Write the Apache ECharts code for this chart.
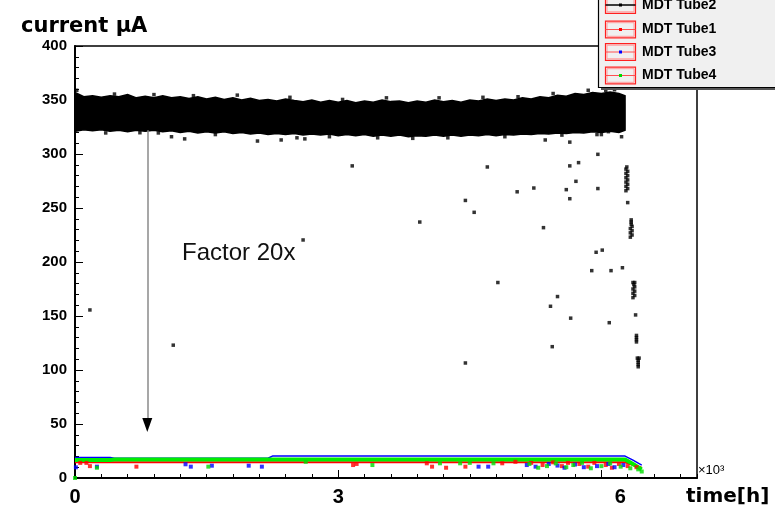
<!DOCTYPE html>
<html><head><meta charset="utf-8">
<script src="https://cdn.jsdelivr.net/npm/echarts@6/dist/echarts.min.js"></script>
<style>html,body{margin:0;padding:0;background:#fff}#c{width:775px;height:510px}</style>
</head><body><div id="c"></div>
<script>
// ---- data (time in 10^3 h, current in uA) ----
const xTicks = [0, 3, 6];
const bandX = [0,0.1,0.2,0.3,0.4,0.5,0.6,0.7,0.8,0.9,1.0,1.1,1.2,1.3,1.4,1.5,1.6,1.7,1.8,1.9,2.0,2.1,2.2,2.3,2.4,2.5,2.6,2.7,2.8,2.9,3.0,3.1,3.2,3.3,3.4,3.5,3.6,3.7,3.8,3.9,4.0,4.1,4.2,4.3,4.4,4.5,4.6,4.7,4.8,4.9,5.0,5.1,5.2,5.3,5.4,5.5,5.6,5.7,5.8,5.9,6.0,6.1,6.2,6.27];
const bandTop = [357,353,354,352.5,354,353,355,352,353.5,352,354,352,353,351.5,353,351,352.5,350.5,352,350,351.5,349.5,350.5,349,351,349.5,348.5,350,348,349.5,348,349.5,347.5,349,348,350,348.5,349,347.5,349,348,350,348.5,349.5,348,350,349,351,349.5,351,350,352,351,353,352,354.5,353.5,356,355,357,356,357.5,356,354];
const bandBottom = [321,322.5,321.5,322.5,321,322,320.5,322,321,322,320.5,321.5,320,321,319.5,320.5,319.5,320.5,319,320,318.5,319.5,318,319,318,319,317.5,318.5,317.5,318.5,317,318,317,318,316.5,317.5,316.5,317.5,316,317,316.5,317.5,316.5,317.5,316.5,317.5,317,318,317,318,317.5,318.5,318,319,318.5,319.5,319,320,319.5,320.5,320,321,320,322];
const bandEdgeDots = [[0.02,359],[0.45,355.5],[0.9,355],[1.35,354],[1.85,354.5],[2.45,352.5],[3.05,350.5],[3.55,352],[4.15,352],[4.65,352.5],[5.05,353],[5.45,356],[5.85,359],[6.05,359],[6.15,359.5],
  [0.35,319.5],[0.95,319.5],[1.6,318],[2.9,316],[3.45,315],[3.85,314.5],[4.25,315],[4.9,316],[5.55,317.5],[6.0,318]];
const tube2Points = [[0.17,155.6],[1.12,123],[2.6,220.4],[3.16,289],[3.93,237],[4.45,257],[4.55,246],[4.70,288],[4.45,106.5],[4.82,181],[5.04,265],[5.23,268.5],[5.34,231.8],[5.36,313],[5.64,311],[5.95,318],[6.08,320.7],[6.23,316],[5.96,299.7],[5.74,292],[5.64,289],[5.71,274.7],[5.60,267],[5.96,268],[5.64,258.6],[6.30,255],[6.34,239],[5.94,209],[6.01,211],[5.89,192],[6.11,192],[6.24,194.7],[5.50,168],[5.42,159],[5.65,148],[6.09,143.8],[6.39,151],[5.44,121.6],[0.74,319.7],[1.25,314],[1.10,316],[2.08,312],[2.35,313],[2.53,315],[2.62,314]];
const tube2Drop = [[6.28,266],[6.30,268],[6.28,270],[6.30,272],[6.28,274],[6.30,276],[6.28,278],[6.30,280],[6.28,282],[6.30,284],[6.28,286],[6.29,288],
  [6.33,223],[6.35,225],[6.33,227],[6.35,229],[6.33,231],[6.35,233],[6.34,235],[6.34,237],
  [6.36,167],[6.38,169],[6.36,171],[6.38,173],[6.36,175],[6.38,177],[6.37,179],[6.36,181],[6.38,181],
  [6.40,126],[6.40,128],[6.40,130],[6.40,132],
  [6.42,103],[6.42,105],[6.42,107],[6.42,109],[6.41,111],[6.43,111]];
const tube1Line = [[0,14.6],[6.27,14.6],[6.36,12],[6.46,9.5]];
const tube3Line = [[0,19.0],[0.4,19.0],[0.45,18.3],[2.2,18.3],[2.25,20.3],[6.27,20.3],[6.36,16.5],[6.46,12]];
const tube4Line = [[0,16.6],[0.4,16.6],[0.45,17.1],[6.27,17.1],[6.36,13],[6.46,8]];
const tube1Points = [[0.06,14],[0.13,14],[0.17,11],[0.70,10.5],[3.17,12],[3.21,13],[4.01,13.6],[4.07,10.5],[4.23,9.5],[4.45,10.5],[4.87,13.6],[5.02,15],[5.2,14],[5.33,12],[5.45,14.5],[5.55,11],[5.62,14],[5.75,13],[5.85,10.5],[5.92,14],[6.05,12],[6.12,9.5],[6.2,13],[6.3,11],[6.4,10]];
const tube3Points = [[0.01,9.9],[0.25,10.5],[1.26,12.7],[1.32,10.5],[1.56,11.4],[1.98,11.4],[2.13,10.5],[4.60,10.5],[4.71,10.5],[5.15,12],[5.25,10.5],[5.4,13],[5.5,11.5],[5.58,9.5],[5.7,12.5],[5.8,10],[5.95,11],[6.08,13],[6.15,10],[6.25,12]];
const tube4Points = [[0,0],[0.25,9.5],[1.52,10.5],[2.63,15],[3.39,12],[4.16,13.6],[4.39,13.6],[4.50,14],[4.77,13.6],[5.18,13],[5.28,9.5],[5.38,11],[5.48,13.5],[5.6,10],[5.68,12],[5.78,14],[5.88,9],[6.0,11],[6.1,13.5],[6.22,10.5],[6.33,9],[6.42,8],[6.46,6]];
const arrowLine = [[0.824,322],[0.824,48]];
const arrowHead = [0.824,49];
const legendNames = ['MDT Tube2','MDT Tube1','MDT Tube3','MDT Tube4'];
const legendColors = ['#000000','#ff0000','#0000ff','#00dd00'];

const SANS = '"Liberation Sans", Arial, sans-serif';
const chart = echarts.init(document.getElementById('c'), null, {renderer:'canvas'});

const legendGraphics = [
  {type:'rect', shape:{x:601,y:-20,width:190,height:110}, style:{fill:'#555'}, z:100},
  {type:'rect', shape:{x:598.5,y:-20,width:190,height:107.5}, style:{fill:'#f0f0f0', stroke:'#000', lineWidth:1.2}, z:101}
];
const rowY = [5, 29.5, 52, 75.5];
rowY.forEach((cy, i) => {
  legendGraphics.push({type:'rect', shape:{x:605.5,y:cy-8.3,width:30,height:16.6}, style:{fill:'none', stroke:'#ff2020', lineWidth:1.2}, z:102});
  legendGraphics.push({type:'rect', shape:{x:607,y:cy-6.8,width:27,height:13.6}, style:{fill:'none', stroke:'#ff9a9a', lineWidth:1}, z:102});
  legendGraphics.push({type:'line', shape:{x1:605.5,y1:cy,x2:635.5,y2:cy}, style:{stroke: i===0 ? '#000' : '#ff5050', lineWidth: i===0 ? 1.5 : 1}, z:103});
  legendGraphics.push({type:'rect', shape:{x:619,y:cy-1.5,width:3,height:3}, style:{fill:legendColors[i]}, z:104});
  legendGraphics.push({type:'text', x:642, y:cy, style:{text:legendNames[i], fill:'#000', font:'bold 14px ' + SANS, textVerticalAlign:'middle', textAlign:'left'}, z:104});
});

const option = {
  animation:false,
  backgroundColor:'#fff',
  grid:{left:75, right:78, top:46, bottom:32, show:true, borderColor:'#000', borderWidth:1.5, backgroundColor:'transparent'},
  xAxis:[
    {type:'value', min:0, max:7.09, interval:3, position:'bottom',
      axisLine:{lineStyle:{color:'#000', width:2}},
      axisTick:{inside:true, length:8, lineStyle:{color:'#000', width:1}},
      axisLabel:{showMaxLabel:false, color:'#000', fontSize:20, fontWeight:'bold', fontFamily:SANS, margin:9,
        formatter: v => (v === xTicks[2] ? '{s|' + v + '}' : String(v)),
        rich:{s:{padding:[0,0,0,38], color:'#000', fontSize:20, fontWeight:'bold', fontFamily:SANS}}},
      splitLine:{show:false}},
    {type:'value', min:0, max:7.09, interval:0.3, position:'bottom',
      axisLine:{show:false},
      axisTick:{inside:true, length:4, lineStyle:{color:'#000', width:1}},
      axisLabel:{show:false}, splitLine:{show:false}}
  ],
  yAxis:{type:'value', min:0, max:400, interval:50,
    axisLine:{lineStyle:{color:'#000', width:2}},
    axisTick:{inside:true, length:8, lineStyle:{color:'#000', width:1}},
    minorTick:{show:true, splitNumber:5, length:4, lineStyle:{color:'#000', width:1}},
    axisLabel:{color:'#000', fontSize:15, fontWeight:'bold', fontFamily:SANS, margin:8},
    splitLine:{show:false}},
  series:[
    {name:'band', type:'custom', xAxisIndex:0, silent:true,
      data:[[bandX[0], bandBottom[0]]],
      renderItem:function(params, api){
        if (params.dataIndex !== 0) return null;
        const pts = [];
        for (let i=0;i<bandX.length;i++) pts.push(api.coord([bandX[i], bandTop[i]]));
        for (let i=bandX.length-1;i>=0;i--) pts.push(api.coord([bandX[i], bandBottom[i]]));
        return {type:'polygon', shape:{points:pts}, style:{fill:'#000', stroke:'#000', lineWidth:1.5}};
      }, z:2},
    {name:'MDT Tube2', type:'scatter', symbol:'rect', symbolSize:3.5, itemStyle:{color:'#000'},
      data: tube2Points.concat(tube2Drop, bandEdgeDots), z:3,
      markLine:{silent:true, symbol:['none','none'], label:{show:false},
        lineStyle:{color:'#8a8a8a', width:1.5, type:'solid'},
        data:[[{coord:arrowLine[0]},{coord:arrowLine[1]}]]},
      markPoint:{silent:true, symbol:'triangle', symbolRotate:180, symbolSize:[10,14], itemStyle:{color:'#000'}, label:{show:false},
        data:[{coord:arrowHead}]}},
    {name:'MDT Tube3', type:'line', data:tube3Line, showSymbol:false, lineStyle:{color:'#0000ff', width:1.5}, z:3},
    {name:'MDT Tube1', type:'line', data:tube1Line, showSymbol:false, lineStyle:{color:'#ff0000', width:2}, z:3},
    {name:'MDT Tube4', type:'line', data:tube4Line, showSymbol:false, lineStyle:{color:'#00ee00', width:4}, z:4},
    {name:'MDT Tube1 pts', type:'scatter', symbol:'rect', symbolSize:4, itemStyle:{color:'#ff0000'}, data:tube1Points, z:5},
    {name:'MDT Tube3 pts', type:'scatter', symbol:'rect', symbolSize:4, itemStyle:{color:'#0000ff'}, data:tube3Points, z:5},
    {name:'MDT Tube4 pts', type:'scatter', symbol:'rect', symbolSize:4, itemStyle:{color:'#00dd00'}, data:tube4Points, z:5}
  ],
  graphic: legendGraphics.concat([
    {type:'text', x:21, y:27, style:{text:'current μA', fill:'#000', font:'bold 21px "DejaVu Sans", sans-serif', textVerticalAlign:'middle'}, z:50},
    {type:'text', x:182, y:253, style:{text:'Factor 20x', fill:'#111', font:'24px ' + SANS, textVerticalAlign:'middle'}, z:50},
    {type:'text', x:698, y:470, style:{text:'×10³', fill:'#000', font:'13px ' + SANS, textVerticalAlign:'middle'}, z:50},
    {type:'text', x:686, y:497, style:{text:'time[h]', fill:'#000', font:'bold 20px "DejaVu Sans", sans-serif', textVerticalAlign:'middle'}, z:50}
  ])
};
chart.setOption(option);
</script>
</body></html>
